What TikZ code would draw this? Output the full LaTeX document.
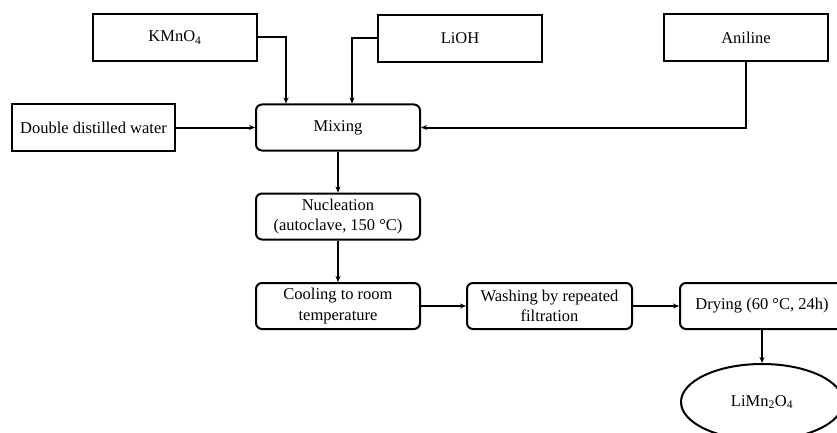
\documentclass[tikz,border=0pt]{standalone}
\usepackage{fontspec}
\setmainfont{Liberation Serif}
\usetikzlibrary{arrows.meta,shapes.geometric}
\begin{document}
\begin{tikzpicture}[x=1pt,y=-1pt,
  every node/.style={font=\fontsize{16.5}{20.5}\selectfont, align=center, inner sep=0pt},
  input/.style={draw, line width=2pt, minimum width=164pt, minimum height=47pt},
  stage/.style={draw, line width=2pt, rounded corners=6pt, minimum width=164pt, minimum height=46pt},
  product/.style={draw, line width=2pt, ellipse, minimum width=162pt, minimum height=76pt},
  arr/.style={line width=2pt, -{Stealth[length=6pt,width=5pt]}}]
\useasboundingbox (0,0) rectangle (837,433);
\clip (0,0) rectangle (837,433);

% raw materials
\node[input] (kmno) at (175,37.5) {KMnO\textsubscript{4}};
\node[input] (lioh) at (460,38.5) {LiOH};
\node[input] (anil) at (746,37.5) {Aniline};
\node[input, minimum width=163pt] (water) at (93.5,127.5) {Double distilled water};

% process stages
\node[stage] (mix) at (338,127.5) {Mixing};
\node[stage] (nuc) at (338,216.5) {Nucleation\\(autoclave, 150 °C)};
\node[stage] (cool) at (338,306) {Cooling to room\\temperature};
\node[stage, minimum width=165pt] (wash) at (549.5,306) {Washing by repeated\\filtration};
\node[stage] (dry) at (762,306) {Drying (60 °C, 24h)};
\node[product] (prod) at (762,402) {LiMn\textsubscript{2}O\textsubscript{4}};

% connectors
\draw[arr] (kmno.east) -| ([xshift=31pt]mix.north west);
\draw[arr] (lioh.west) -| ([xshift=97pt]mix.north west);
\draw[arr] (anil.south) |- (mix.east);
\draw[arr] (water.east) -- (mix.west);
\draw[arr] (mix.south) -- (nuc.north);
\draw[arr] (nuc.south) -- (cool.north);
\draw[arr] (cool.east) -- (wash.west);
\draw[arr] (wash.east) -- (dry.west);
\draw[arr] (dry.south) -- (prod.north);
\end{tikzpicture}
\end{document}
